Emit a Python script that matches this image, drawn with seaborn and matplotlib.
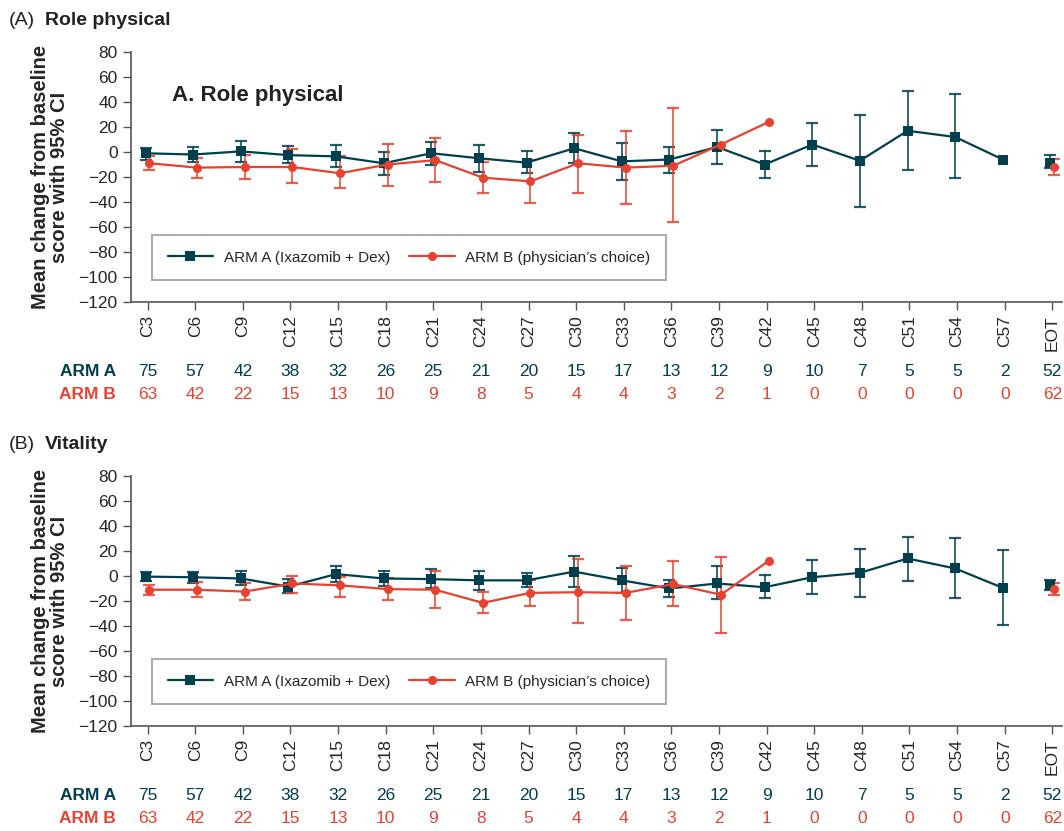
import numpy as np
import pandas as pd
import matplotlib
matplotlib.use('Agg')
import matplotlib.pyplot as plt
import seaborn as sns

sns.set_style('ticks')
plt.rcParams['font.family'] = ['Liberation Sans Narrow', 'Liberation Sans', 'DejaVu Sans']

# visits (last one is end of treatment, not joined by the line)
visits = ['C3', 'C6', 'C9', 'C12', 'C15', 'C18', 'C21', 'C24', 'C27', 'C30',
          'C33', 'C36', 'C39', 'C42', 'C45', 'C48', 'C51', 'C54', 'C57', 'EOT']

# patients at each visit
n_arm_a = [75, 57, 42, 38, 32, 26, 25, 21, 20, 15, 17, 13, 12, 9, 10, 7, 5, 5, 2, 52]
n_arm_b = [63, 42, 22, 15, 13, 10, 9, 8, 5, 4, 4, 3, 2, 1, 0, 0, 0, 0, 0, 62]

# (A) Role physical
rp_a_mean = [-1, -2, 0.5, -2.5, -3.5, -9, -1, -5, -8.5, 3, -7.5, -6, 4, -10, 6, -7, 17, 12, -6, -8.5]
rp_a_low = [-6, -8, -8, -9, -12, -18, -10, -16, -17, -9, -22, -16.5, -9.5, -20.5, -11, -44, -14, -21, np.nan, -12.5]
rp_a_high = [3, 4, 9, 5, 5.5, 0, 8, 5.5, 1, 15, 7, 4, 18, 1, 23.5, 30, 49, 46.5, np.nan, -2.5]
rp_b_mean = [-9, -12.5, -12, -12, -17, -10, -6.5, -20.5, -23.5, -9, -12.5, -11, 6, 24, np.nan, np.nan, np.nan, np.nan, np.nan, -12]
rp_b_low = [-14, -20.5, -21.5, -25, -29, -27, -24, -32.5, -41, -33, -42, -56, np.nan, np.nan, np.nan, np.nan, np.nan, np.nan, np.nan, -18]
rp_b_high = [-3, -4.5, -2, 2.5, -3, 6.5, 11, -8, -6, 14, 17, 35, np.nan, np.nan, np.nan, np.nan, np.nan, np.nan, np.nan, -5.5]

# (B) Vitality
vt_a_mean = [-0.5, -1, -2, -8.5, 1.5, -2, -2.5, -3.5, -3.5, 3.5, -3.5, -10, -6, -9, -1, 2.5, 14, 6, -9.5, -7.5]
vt_a_low = [-4, -5.5, -7.5, -13.5, -4.5, -8, -10, -11, -9, -8.5, -14, -17, -18.5, -18, -14.5, -16.5, -4, -18, -39, -11.5]
vt_a_high = [3, 3, 4, -2.5, 8, 4, 5.5, 4, 2.5, 16, 6.5, -3, 8, 0.5, 13, 21.5, 31.5, 30, 21, -3]
vt_b_mean = [-11, -11, -12.5, -6, -7.5, -10.5, -11, -21.5, -13.5, -13, -13.5, -6.5, -15, 12, np.nan, np.nan, np.nan, np.nan, np.nan, -10.5]
vt_b_low = [-15.5, -17, -19.5, -13.5, -16.5, -19, -26, -30, -24, -38, -35.5, -24, -45.5, np.nan, np.nan, np.nan, np.nan, np.nan, np.nan, -15.5]
vt_b_high = [-7, -4.5, -5.5, 0, -1, -2, 4, -13, -3.5, 13.5, 8, 12, 15, np.nan, np.nan, np.nan, np.nan, np.nan, np.nan, -6]

col_a = '#003f4d'
col_b = '#e8412f'
lab_a = 'ARM A (Ixazomib + Dex)'
lab_b = 'ARM B (physician\u2019s choice)'


def draw_arm(ax, mean, low, high, color, marker, ms, shift, label):
    x = np.arange(len(visits)) + shift
    df = pd.DataFrame({'x': x, 'y': mean, 'lo': low, 'hi': high})
    main = df.iloc[:-1].dropna(subset=['y'])
    eot = df.iloc[-1:]
    yerr = [df['y'] - df['lo'], df['hi'] - df['y']]
    ax.errorbar(df['x'], df['y'], yerr=yerr, fmt='none', ecolor=color,
                elinewidth=1.3, capsize=4, capthick=1.6, alpha=0.85, zorder=2)
    sns.lineplot(data=main, x='x', y='y', color=color, marker=marker, markersize=ms,
                 markeredgewidth=0, linewidth=1.6, label=label, ax=ax, zorder=3)
    sns.scatterplot(data=eot, x='x', y='y', color=color, marker=marker, s=ms ** 2,
                    linewidth=0, ax=ax, zorder=3, legend=False)


def panel(ax, a, b, inner_title=None):
    draw_arm(ax, *a, col_a, 's', 7, -0.04, lab_a)
    draw_arm(ax, *b, col_b, 'o', 6.5, 0.04, lab_b)
    ax.set_xlim(-0.35, 19.2)
    ax.set_ylim(-120, 80)
    ax.set_yticks(np.arange(-120, 81, 20))
    ax.set_yticklabels([str(v).replace('-', '\u2212') for v in range(-120, 81, 20)])
    ax.set_xticks(np.arange(len(visits)))
    ax.set_xticklabels(visits, rotation=90)
    ax.tick_params(axis='both', labelsize=12.5, length=6, width=1, color='#555555')
    for s in ['top', 'right']:
        ax.spines[s].set_visible(False)
    for s in ['left', 'bottom']:
        ax.spines[s].set_color('#555555')
        ax.spines[s].set_linewidth(1.2)
    ax.set_xlabel('')
    ax.set_ylabel('Mean change from baseline\nscore with 95% CI', fontsize=14.5,
                  fontweight='bold', linespacing=1.05)
    ax.yaxis.set_label_coords(-0.066, 0.5)
    leg = ax.legend(loc='lower left', bbox_to_anchor=(0.023, 0.088), borderaxespad=0,
                    ncol=2, fontsize=11, frameon=True, fancybox=False, borderpad=1.0,
                    handlelength=3.0, columnspacing=1.2, handletextpad=0.7)
    leg.get_frame().set_edgecolor('#999999')
    leg.get_frame().set_linewidth(1.5)
    if inner_title:
        ax.text(0.52, 45, inner_title, fontsize=16, fontweight='bold', va='center', color='#222222')
    trans = matplotlib.transforms.blended_transform_factory(ax.transData, ax.transAxes)
    for rowy, name, ns, c in [(-0.28, 'ARM A', n_arm_a, col_a), (-0.372, 'ARM B', n_arm_b, col_b)]:
        ax.text(-0.67, rowy, name, transform=trans, ha='right', va='center',
                fontsize=12.5, fontweight='bold', color=c)
        for i, n in enumerate(ns):
            ax.text(i, rowy, str(n), transform=trans, ha='center', va='center',
                    fontsize=12.5, color=c)


fig = plt.figure(figsize=(10.64, 8.31), dpi=100)
ax1 = fig.add_axes([0.123, 0.6366, 0.875, 0.3008])
ax2 = fig.add_axes([0.123, 0.1264, 0.875, 0.3008])

panel(ax1, (rp_a_mean, rp_a_low, rp_a_high), (rp_b_mean, rp_b_low, rp_b_high), 'A. Role physical')
panel(ax2, (vt_a_mean, vt_a_low, vt_a_high), (vt_b_mean, vt_b_low, vt_b_high))

fig.text(0.008, 0.975, '(A)', fontsize=14, va='center', color='#222222')
fig.text(0.042, 0.975, 'Role physical', fontsize=14, fontweight='bold', va='center', color='#222222')
fig.text(0.008, 0.465, '(B)', fontsize=14, va='center', color='#222222')
fig.text(0.042, 0.465, 'Vitality', fontsize=14, fontweight='bold', va='center', color='#222222')

fig.savefig('out.png', dpi=100)
